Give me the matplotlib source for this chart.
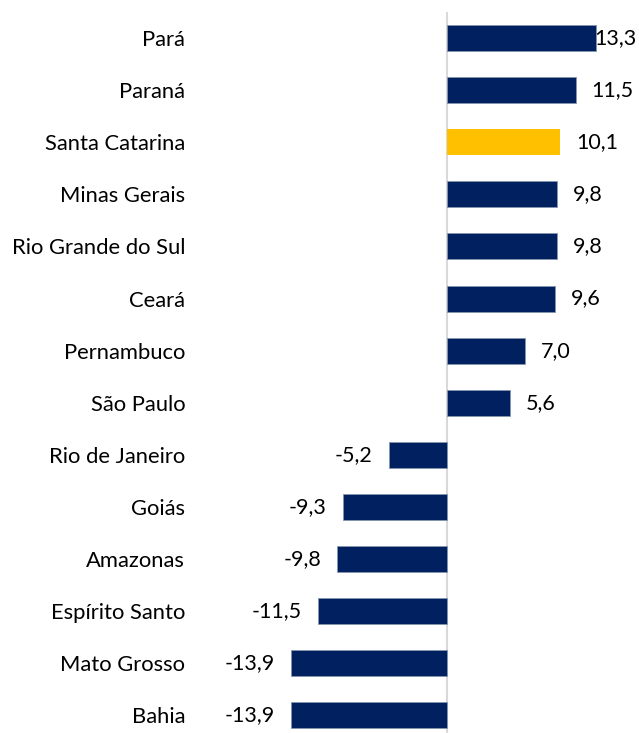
import matplotlib
matplotlib.use("Agg")
import matplotlib.pyplot as plt

states = [
    "Pará", "Paraná", "Santa Catarina", "Minas Gerais", "Rio Grande do Sul",
    "Ceará", "Pernambuco", "São Paulo", "Rio de Janeiro", "Goiás",
    "Amazonas", "Espírito Santo", "Mato Grosso", "Bahia",
]
values = [13.3, 11.5, 10.1, 9.8, 9.8, 9.6, 7.0, 5.6, -5.2, -9.3, -9.8, -11.5, -13.9, -13.9]
highlight = "Santa Catarina"

NAVY = "#002060"
GOLD = "#FFC000"

W, H, DPI = 639, 733, 100
plt.rcParams["font.family"] = ["Lato", "DejaVu Sans"]

fig = plt.figure(figsize=(W / DPI, H / DPI), dpi=DPI)
# axes placed in pixel terms: left 195, right 605, top 12, bottom 733
ax = fig.add_axes([195 / W, 0, 410 / W, 721 / H])

y = list(range(len(states)))
for yi, s, v in zip(y, states, values):
    if s == highlight:
        ax.barh(yi, v, height=0.5, color=GOLD, linewidth=0, zorder=2)
    else:
        ax.barh(yi, v, height=0.5, color=NAVY, edgecolor="#8496b0", linewidth=0.6, zorder=2)

px_per_unit = 11.2
ax.set_xlim((195 - 447) / px_per_unit, (605 - 447) / px_per_unit)
ax.set_ylim(-0.5 + 721 / 52.1, -0.5)

ax.axvline(0, color="#d9d9d9", linewidth=1.5, zorder=1)

ax.set_yticks(y)
ax.set_yticklabels(states, fontsize=15.8)
ax.tick_params(axis="y", length=0, pad=7)
ax.set_xticks([])
for sp in ax.spines.values():
    sp.set_visible(False)

labels = []
for yi, v in zip(y, values):
    txt = f"{v:.1f}".replace(".", ",")
    if v >= 0:
        t = ax.annotate(txt, (v, yi), xytext=(11.5, 0), textcoords="offset points",
                        ha="left", va="center", fontsize=15.5)
    else:
        t = ax.annotate(txt, (v, yi), xytext=(-11.5, 0), textcoords="offset points",
                        ha="right", va="center", fontsize=15.5)
    labels.append(t)

# keep labels inside the figure like the spreadsheet does
fig.canvas.draw()
r = fig.canvas.get_renderer()
for t in labels:
    bb = t.get_window_extent(r)
    if bb.x1 > W - 2:
        shift = (bb.x1 - (W - 2)) * 72 / DPI
        ox, oy = t.xyann
        t.xyann = (ox - shift, oy)

fig.savefig("out.png", dpi=DPI)
